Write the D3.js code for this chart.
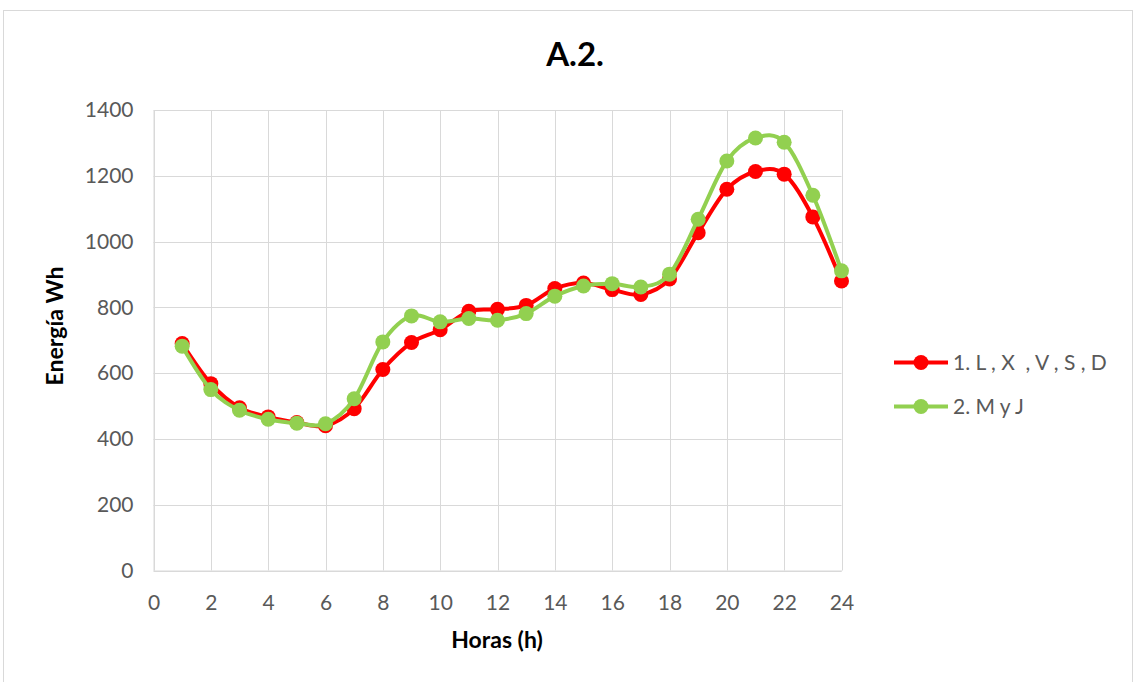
<!DOCTYPE html>
<html><head><meta charset="utf-8">
<script src="https://cdn.jsdelivr.net/npm/d3@7"></script>
<style>body{margin:0;background:#fff;} svg{display:block;}</style>
</head><body>
<svg id="c" width="1136" height="682"></svg>
<script>
const hours = [1,2,3,4,5,6,7,8,9,10,11,12,13,14,15,16,17,18,19,20,21,22,23,24];
const series1Name = "1. L , X  , V , S , D";
const series1 = [690,568,495,467,450,440,492,611,693,732,788,794,806,857,874,854,839,886,1027,1159,1213,1205,1075,880];
const series2Name = "2. M y J";
const series2 = [682,550,487,460,448,446,522,695,774,756,766,761,781,834,865,872,862,901,1068,1245,1315,1302,1141,911];
const xTicks = [0,2,4,6,8,10,12,14,16,18,20,22,24];
const yTicks = [0,200,400,600,800,1000,1200,1400];
const title = "A.2.";
const xTitle = "Horas (h)";
const yTitle = "Energía Wh";

const svg = d3.select("#c");
const font = "Lato, 'Open Sans', sans-serif";
const L = 153.5, R = 841.5, T = 110, B = 570.5;
const x = d3.scaleLinear().domain([0,24]).range([L,R]);
const y = d3.scaleLinear().domain([0,1400]).range([B,T]);

svg.append("rect").attr("x",3.5).attr("y",10.5).attr("width",1129).attr("height",690)
  .attr("fill","#fff").attr("stroke","#d9d9d9").attr("stroke-width",1);

// grid
const g = svg.append("g");
g.selectAll(".hg").data(yTicks).join("line")
  .attr("x1",L).attr("x2",R).attr("y1",d=>Math.round(y(d))+0.5).attr("y2",d=>Math.round(y(d))+0.5)
  .attr("stroke","#d9d9d9").attr("stroke-width",1);
g.selectAll(".vg").data(xTicks).join("line")
  .attr("y1",T).attr("y2",B).attr("x1",d=>Math.round(x(d))+0.5).attr("x2",d=>Math.round(x(d))+0.5)
  .attr("stroke","#d9d9d9").attr("stroke-width",1);

// axes labels via d3 axes
const xAxis = svg.append("g").attr("transform",`translate(0,${B})`)
  .call(d3.axisBottom(x).tickValues(xTicks).tickFormat(d3.format("d")).tickSize(0).tickPadding(24));
const yAxis = svg.append("g").attr("transform",`translate(${L},0)`)
  .call(d3.axisLeft(y).tickValues(yTicks).tickFormat(d3.format("d")).tickSize(0).tickPadding(20));
[xAxis,yAxis].forEach(a=>{
  a.select(".domain").attr("stroke","#d9d9d9");
  a.selectAll("text").attr("fill","#595959").style("font-family",font).style("font-size","21px");
});
xAxis.selectAll("text").attr("dy","0.35em").attr("y",32);

// lines
const line = d3.line().x((d,i)=>x(hours[i])).y(d=>y(d)).curve(d3.curveCatmullRom.alpha(0));
const data = [{v:series1,c:"#ff0000"},{v:series2,c:"#92d050"}];
data.forEach(s=>{
  svg.append("path").attr("d",line(s.v)).attr("fill","none").attr("stroke",s.c)
    .attr("stroke-width",4).attr("stroke-linejoin","round").attr("stroke-linecap","round");
  svg.append("g").selectAll("circle").data(s.v).join("circle")
    .attr("cx",(d,i)=>x(hours[i])).attr("cy",d=>y(d)).attr("r",7.5).attr("fill",s.c);
});

// title
svg.append("text").attr("x",575).attr("y",66).attr("text-anchor","middle")
  .style("font-family",font).style("font-weight","bold").style("font-size","33px").attr("fill","#000").text(title);
svg.append("text").attr("x",497).attr("y",648).attr("text-anchor","middle")
  .style("font-family",font).style("font-weight","bold").style("font-size","23px").attr("fill","#000").text(xTitle);
svg.append("text").attr("transform","translate(63,326) rotate(-90)").attr("text-anchor","middle")
  .style("font-family",font).style("font-weight","bold").style("font-size","23px").attr("fill","#000").text(yTitle);

// legend
const leg = [{n:series1Name,c:"#ff0000",y:362.5},{n:series2Name,c:"#92d050",y:406.5}];
leg.forEach(l=>{
  svg.append("line").attr("x1",894).attr("x2",948).attr("y1",l.y).attr("y2",l.y).attr("stroke",l.c).attr("stroke-width",4);
  svg.append("circle").attr("cx",921).attr("cy",l.y).attr("r",7.5).attr("fill",l.c);
  svg.append("text").attr("x",953).attr("y",l.y).attr("dy","0.35em").attr("fill","#595959")
    .style("font-family",font).style("font-size","21px").attr("xml:space","preserve").style("white-space","pre").text(l.n);
});
</script>
</body></html>
